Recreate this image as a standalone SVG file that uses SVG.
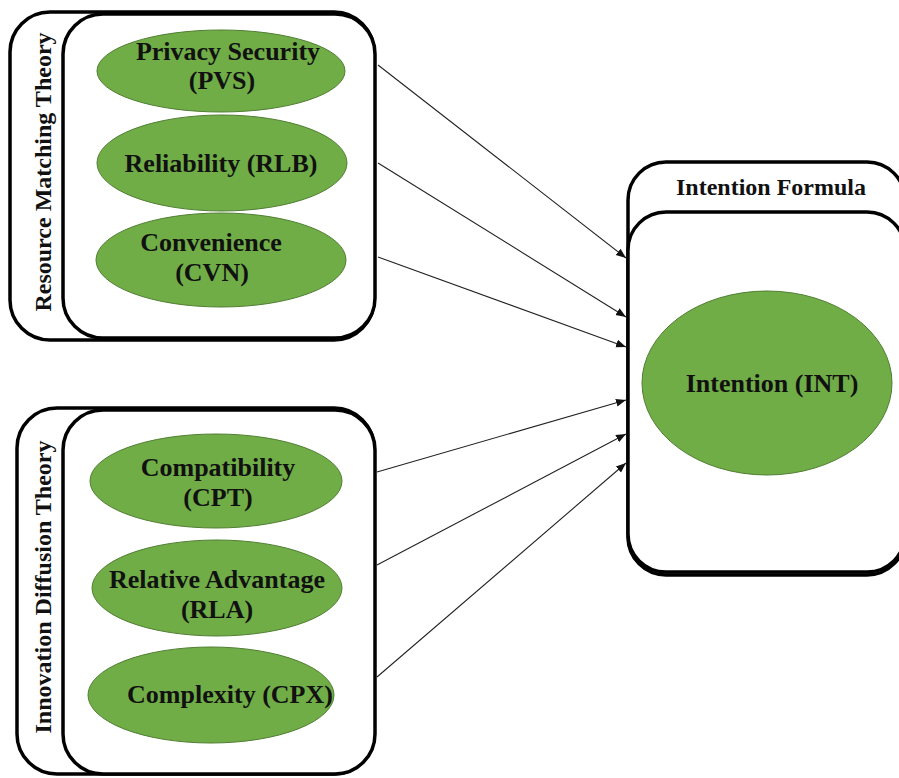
<svg xmlns="http://www.w3.org/2000/svg" width="899" height="778" viewBox="0 0 899 778">
<defs>
<style>
.box{fill:#fff;stroke:#000;stroke-width:3.5}
.ell{fill:#70ad47;stroke:#507e32;stroke-width:1}
.t{font-family:"Liberation Serif","Times New Roman",serif;font-weight:bold;font-size:26px;fill:#111;text-anchor:middle}
.lbl{font-family:"Liberation Serif","Times New Roman",serif;font-weight:bold;font-size:24px;fill:#111;text-anchor:middle}
.c{stroke:#222;stroke-width:1.1;fill:none;marker-end:url(#ah)}
</style>
<marker id="ah" viewBox="0 0 10 10" refX="10" refY="5" markerWidth="10" markerHeight="10" markerUnits="userSpaceOnUse" orient="auto">
<path d="M0,1 L10,5 L0,9 z" fill="#111"/>
</marker>
</defs>
<rect width="899" height="778" fill="#fff"/>

<g id="resource-matching-theory">
<rect class="box" x="10" y="12" width="364" height="328" rx="40"/>
<rect class="box" x="63" y="14" width="312" height="324" rx="40"/>
<text class="lbl" transform="translate(51,172) rotate(-90)">Resource Matching Theory</text>
</g>
<g id="pvs">
<ellipse class="ell" cx="221" cy="71" rx="124" ry="41"/>
<text class="t" x="228" y="60">Privacy Security</text>
<text class="t" x="222" y="89">(PVS)</text>
</g>
<g id="rlb">
<ellipse class="ell" cx="222" cy="163" rx="125" ry="48"/>
<text class="t" x="221" y="172">Reliability (RLB)</text>
</g>
<g id="cvn">
<ellipse class="ell" cx="221" cy="260" rx="125" ry="47"/>
<text class="t" x="211" y="251">Convenience</text>
<text class="t" x="212" y="281">(CVN)</text>
</g>

<g id="innovation-diffusion-theory">
<rect class="box" x="17" y="408" width="357" height="366" rx="40"/>
<rect class="box" x="63" y="410" width="312" height="364" rx="40"/>
<text class="lbl" transform="translate(51,587) rotate(-90)">Innovation Diffusion Theory</text>
</g>
<g id="cpt">
<ellipse class="ell" cx="216" cy="481" rx="126" ry="47"/>
<text class="t" x="218" y="476">Compatibility</text>
<text class="t" x="218" y="506">(CPT)</text>
</g>
<g id="rla">
<ellipse class="ell" cx="217" cy="588" rx="125" ry="48"/>
<text class="t" x="217" y="588">Relative Advantage</text>
<text class="t" x="217" y="618">(RLA)</text>
</g>
<g id="cpx">
<ellipse class="ell" cx="211" cy="695" rx="123" ry="48"/>
<text class="t" x="230" y="703">Complexity (CPX)</text>
</g>

<g id="intention-formula">
<rect class="box" x="628" y="162" width="277" height="413" rx="38"/>
<rect class="box" x="628" y="212" width="277" height="360" rx="38"/>
<text class="lbl" x="771" y="195">Intention Formula</text>
</g>
<g id="int">
<ellipse class="ell" cx="767" cy="383" rx="125" ry="92"/>
<text class="t" x="772" y="392">Intention (INT)</text>
</g>

<g id="connectors">
<line class="c" x1="378" y1="65" x2="626" y2="258"/>
<line class="c" x1="378" y1="163" x2="626" y2="317"/>
<line class="c" x1="378" y1="257" x2="626" y2="347"/>
<line class="c" x1="377" y1="472" x2="626" y2="400"/>
<line class="c" x1="377" y1="565" x2="626" y2="434"/>
<line class="c" x1="377" y1="677" x2="626" y2="463"/>
</g>
</svg>
